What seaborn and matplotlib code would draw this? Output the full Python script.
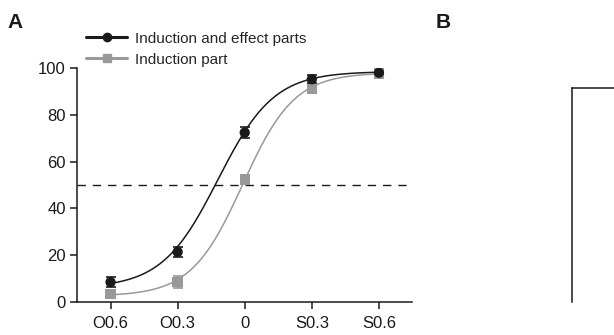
import numpy as np
import pandas as pd
import matplotlib
matplotlib.use('Agg')
import matplotlib.pyplot as plt
from matplotlib.lines import Line2D
import seaborn as sns

# Data
doses = ['O0.6', 'O0.3', '0', 'S0.3', 'S0.6']
dose_pos = [-2, -1, 0, 1, 2]
both_mean = [8.5, 21.4, 72.4, 95.2, 98.0]
both_err = [2.0, 2.2, 2.2, 1.6, 1.0]
induction_mean = [3.5, 8.5, 52.3, 91.0, 97.6]
induction_err = [1.0, 2.5, 0.6, 1.5, 1.0]
# logistic fit parameters: bottom, top, midpoint, slope
both_fit = [6.0, 98.5, -0.4, 2.4]
induction_fit = [2.5, 98.0, -0.03, 2.6]

sns.set_theme(style='ticks')
plt.rcParams['font.family'] = ['Liberation Sans', 'DejaVu Sans']

fig = plt.figure(figsize=(6.14, 3.35), dpi=100)
ax = fig.add_axes([0.1254, 0.0985, 0.5464, 0.6985])


def logistic(x, p):
    b, t, x0, k = p
    return b + (t - b) / (1 + np.exp(-k * (x - x0)))


xs = np.linspace(-2, 2, 200)
curves = pd.concat([
    pd.DataFrame({'x': xs, 'y': logistic(xs, both_fit), 'group': 'both'}),
    pd.DataFrame({'x': xs, 'y': logistic(xs, induction_fit), 'group': 'induction'}),
])
palette = {'both': '#1a1a1a', 'induction': '#999999'}
sns.lineplot(data=curves, x='x', y='y', hue='group', palette=palette,
             linewidth=1.1, legend=False, ax=ax)

ax.axhline(50, color='#1a1a1a', linestyle=(0, (6, 5)), linewidth=1.0)

ax.errorbar(dose_pos, induction_mean, yerr=induction_err, fmt='none',
            ecolor='#999999', elinewidth=1.2, capsize=3.5, capthick=1.2)
ax.errorbar(dose_pos, both_mean, yerr=both_err, fmt='none',
            ecolor='#1a1a1a', elinewidth=1.2, capsize=3.5, capthick=1.2)

points = pd.DataFrame({
    'x': dose_pos * 2,
    'y': induction_mean + both_mean,
    'group': ['induction'] * 5 + ['both'] * 5,
})
sns.scatterplot(data=points, x='x', y='y', hue='group', style='group',
                markers={'both': 'o', 'induction': 's'}, palette=palette,
                s=55, edgecolor='none', legend=False, ax=ax, zorder=5)

ax.set_xlim(-2.5, 2.5)
ax.set_ylim(0, 100)
ax.set_xticks(dose_pos)
ax.set_xticklabels(doses)
ax.set_yticks([0, 20, 40, 60, 80, 100])
ax.set_xlabel('')
ax.set_ylabel('')
ax.tick_params(labelsize=12, length=5, width=1.1, color='#1a1a1a',
               labelcolor='#1a1a1a')
ax.tick_params(axis='x', pad=5)
ax.tick_params(axis='y', pad=3)
for side in ['top', 'right']:
    ax.spines[side].set_visible(False)
for side in ['left', 'bottom']:
    ax.spines[side].set_color('#1a1a1a')
    ax.spines[side].set_linewidth(1.1)

handles = [
    Line2D([], [], color='#1a1a1a', lw=2.2, marker='o', markersize=6),
    Line2D([], [], color='#999999', lw=2.2, marker='s', markersize=6),
]
fig.legend(handles, ['Induction and effect parts', 'Induction part'],
           loc='upper left', bbox_to_anchor=(0.14, 0.905), frameon=False,
           fontsize=11, handlelength=2.7, handletextpad=0.5, labelspacing=0.45,
           borderpad=0, borderaxespad=0)

fig.text(0.013, 0.96, 'A', fontsize=15, fontweight='bold', va='top', color='#1a1a1a')
fig.text(0.710, 0.96, 'B', fontsize=15, fontweight='bold', va='top', color='#1a1a1a')

# panel B: frame of a cropped image
axb = fig.add_axes([0.9316, 0.0985, 0.2, 0.638])
axb.set_xticks([])
axb.set_yticks([])
axb.set_facecolor('white')
for side in ['bottom', 'right']:
    axb.spines[side].set_visible(False)
for side in ['left', 'top']:
    axb.spines[side].set_visible(True)
    axb.spines[side].set_color('#1a1a1a')
    axb.spines[side].set_linewidth(1.1)

fig.savefig('out.png', dpi=100)
